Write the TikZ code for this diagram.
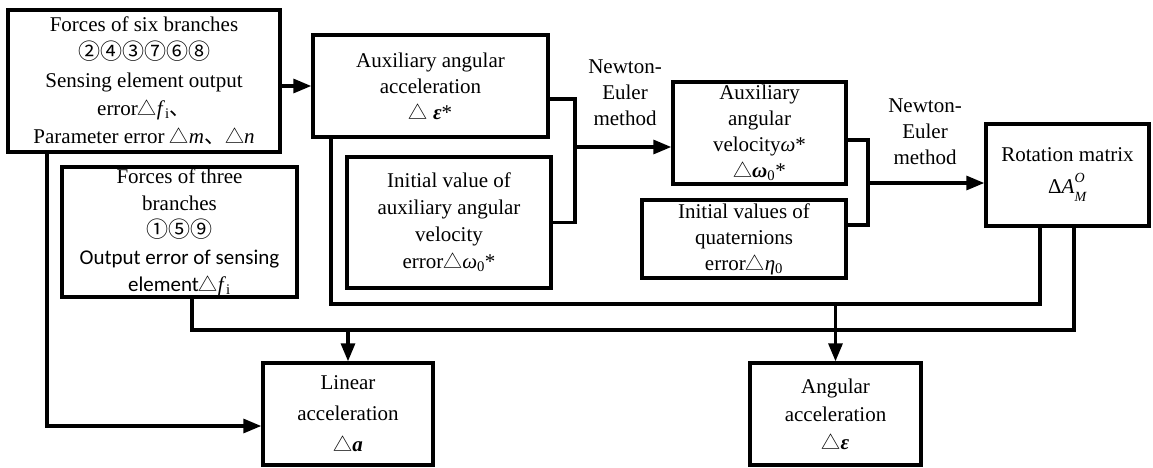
\documentclass[tikz,border=0pt]{standalone}
\usepackage{fontspec}
\setmainfont{Liberation Serif}
\newfontfamily\tmsfont{Liberation Serif}
\newfontfamily\zhfont{Noto Sans CJK SC}
\newfontfamily\cbfont{Carlito}
\usetikzlibrary{arrows.meta}

\newcommand{\tri}{{\zhfont\fontsize{19}{19}\selectfont △}}
\newcommand{\dun}{{\zhfont 、}}
\newcommand{\circs}[1]{{\zhfont\fontsize{22}{22}\selectfont #1}}

\begin{document}
\begin{tikzpicture}[x=1pt,y=-1pt,line width=3.2pt,>={Triangle[length=18pt,width=14pt]}]
    \tikzstyle{B}=[draw,line width=3.4pt,inner sep=0pt,align=center,font=\tmsfont\fontsize{21}{26}\selectfont]
    \tikzstyle{lab}=[inner sep=0pt,align=center,font=\tmsfont\fontsize{21}{26}\selectfont]
    \useasboundingbox (0,0) rectangle (1153,467);

    % Boxes
    \node [B,minimum width=272,minimum height=142,font=\tmsfont\fontsize{21}{28}\selectfont] (six) at (144,81)
        {Forces of six branches\\\circs{②④③⑦⑥⑧}\\Sensing element output\\error\tri\textit{f}\textsubscript{i}\dun\\Parameter error \tri\textit{m}\dun\tri\textit{n}};
    \node [B,minimum width=235,minimum height=130,font=\tmsfont\fontsize{21}{27}\selectfont] (three) at (179.5,232)
        {Forces of three\\branches\\\circs{①⑤⑨}\\{\cbfont Output error of sensing}\\{\cbfont element}\tri\textit{f}\textsubscript{i}};
    \node [B,minimum width=235,minimum height=102] (aux) at (430.5,86)
        {Auxiliary angular\\acceleration\\\tri\ \textbf{\textit{ε}}*};
    \node [B,minimum width=204,minimum height=131,font=\tmsfont\fontsize{21}{27}\selectfont] (ivel) at (449,222.5)
        {Initial value of\\auxiliary angular\\velocity\\error\tri\textit{ω}\textsubscript{0}*};
    \node [B,minimum width=173,minimum height=102] (avel) at (759.5,133)
        {Auxiliary\\angular\\velocity\textit{ω}*\\\tri\textbf{\textit{ω}}\textsubscript{0}*};
    \node [B,minimum width=204,minimum height=78] (quat) at (744,239)
        {Initial values of\\quaternions\\error\tri\textit{η}\textsubscript{0}};
    \node [B,minimum width=163,minimum height=102] (rot) at (1067.5,175)
        {Rotation matrix\\[6pt]Δ\textit{A}\makebox[0pt][l]{\raisebox{11pt}{\fontsize{14}{14}\selectfont\textit{O}}}\raisebox{-8pt}{\fontsize{14}{14}\selectfont\textit{M}}};
    \node [B,minimum width=170,minimum height=102,font=\tmsfont\fontsize{21}{31}\selectfont] (lin) at (348,414)
        {Linear\\acceleration\\\tri\textbf{\textit{a}}};
    \node [B,minimum width=171,minimum height=102,font=\tmsfont\fontsize{21}{28}\selectfont] (ang) at (835.5,414)
        {Angular\\acceleration\\\tri\textbf{\textit{ε}}};

    % Method labels
    \node [lab] (ne1) at (625,93) {Newton-\\Euler\\method};
    \node [lab] (ne2) at (925,132) {Newton-\\Euler\\method};

    % Connectors
    \coordinate (m1) at (575,147);
    \coordinate (m2) at (868,183);
    \coordinate (bus1) at (0,304);
    \coordinate (bus2) at (0,330);

    \draw [->] (six.east |- aux) -- (aux.west);
    \draw (aux.east |- 0,99) -| (m1) |- (ivel.east);
    \draw [->] (m1) -- (avel.west |- m1);
    \draw (avel.east |- 0,140) -| (m2) |- (quat.east |- 0,225);
    \draw [->] (m2) -- (rot.west |- m2);

    \draw (aux.south -| 331,0) |- (bus1 -| 1040,0) -- (rot.south -| 1040,0);
    \draw (three.south -| 192,0) |- (bus2 -| 1074,0) -- (rot.south -| 1074,0);
    \draw [->] (ang.north |- bus1) -- (ang.north);
    \draw [->] (lin.north |- bus2) -- (lin.north);
    \draw [->] (six.south -| 47,0) |- (lin.west |- 0,426);
\end{tikzpicture}
\end{document}
